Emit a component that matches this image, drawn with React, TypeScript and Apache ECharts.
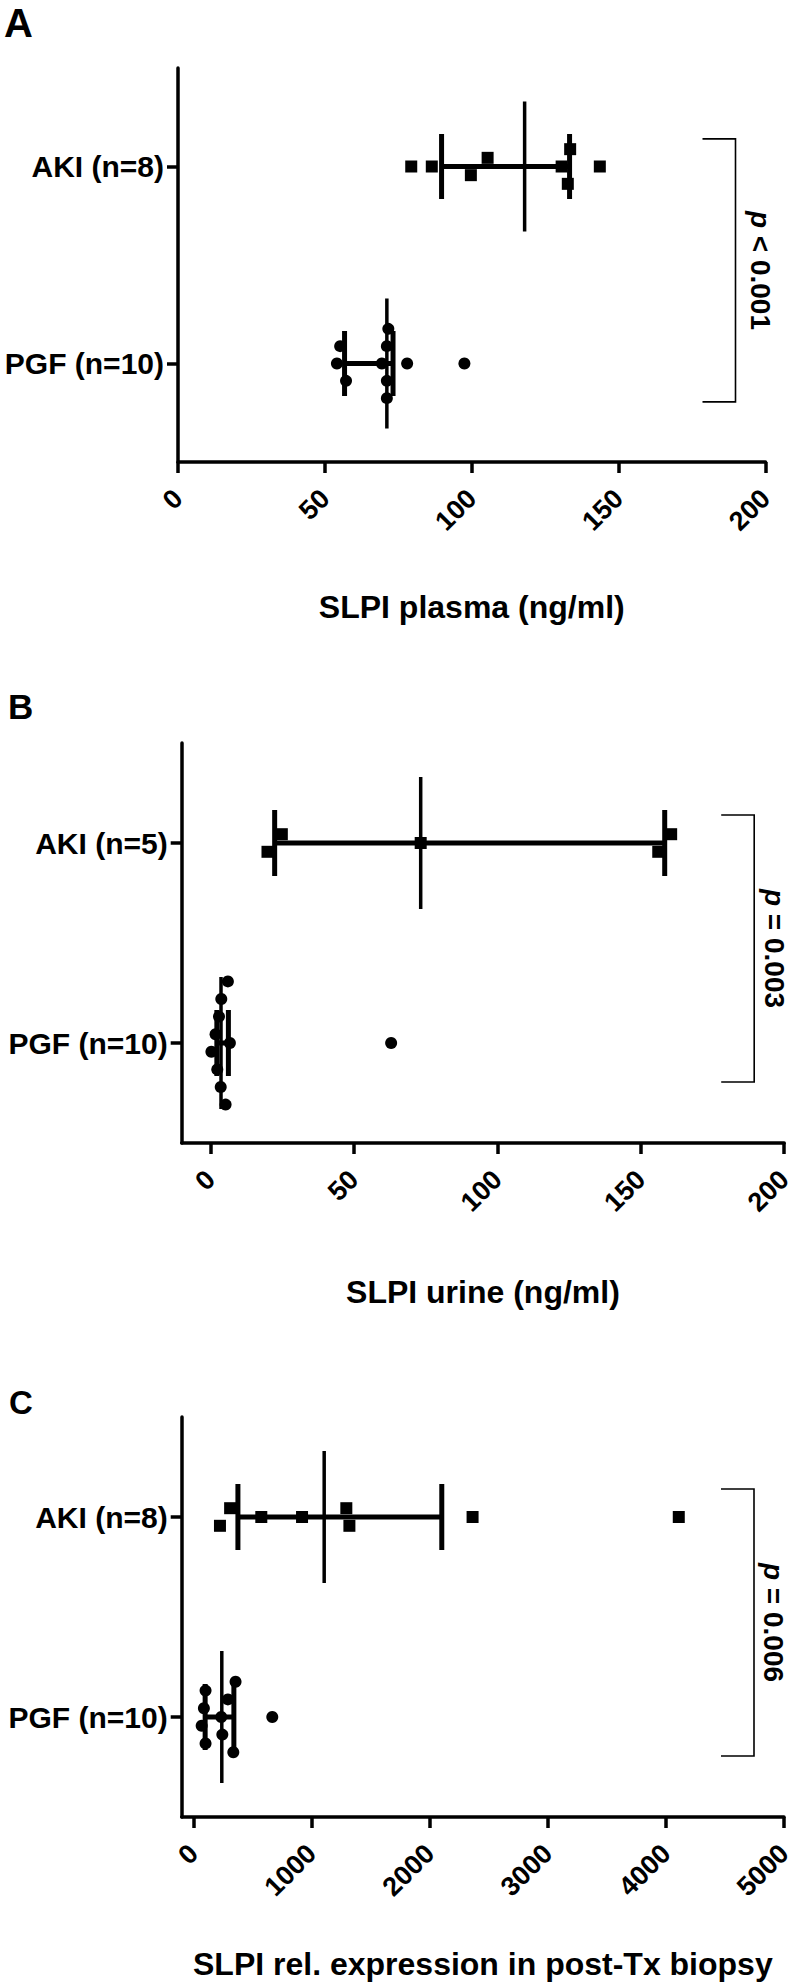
import React, { useEffect, useRef } from "react";
import * as echarts from "echarts";

// ----------------------------- data -----------------------------
const groupNamesPlasma = ["PGF (n=10)", "AKI (n=8)"];
const groupNamesUrine = ["PGF (n=10)", "AKI (n=5)"];
const groupNamesBiopsy = ["PGF (n=10)", "AKI (n=8)"];

const plasmaTicks = [0, 50, 100, 150, 200];
const urineTicks = [0, 50, 100, 150, 200];
const biopsyTicks = [0, 1000, 2000, 3000, 4000, 5000];

// Panel A: SLPI plasma (ng/ml)  (row: jitter row, positive = below the group line)
const akiPlasma = [79.4, 86.4, 99.7, 105.4, 130.6, 133.5, 132.7, 143.6];
const akiPlasmaRow = [0, 0, 1, -1, 0, -2, 2, 0];
const pgfPlasma = [55.2, 54.1, 57.2, 71.6, 71.1, 69.4, 71.1, 71.1, 78.0, 97.5];
const pgfPlasmaRow = [-2, 0, 2, -4, -2, 0, 2, 4, 0, 0];

// Panel B: SLPI urine (ng/ml)
const akiUrine = [19.9, 24.9, 73.3, 156.1, 160.6];
const akiUrineRow = [1, -1, 0, 1, -1];
const pgfUrine = [6.1, 3.8, 3.0, 1.8, 6.8, 0.35, 2.4, 3.6, 5.3, 63.0];
const pgfUrineRow = [-7, -5, -3, -1, 0, 1, 3, 5, 7, 0];

// Panel C: SLPI rel. expression in post-Tx biopsy
const akiBiopsy = [224, 310, 574, 919, 1294, 1320, 2363, 4109];
const akiBiopsyRow = [1, -1, 0, 0, -1, 1, 0, 0];
const pgfBiopsy = [102, 88, 69, 102, 235, 244, 291, 356, 337, 667];
const pgfBiopsyRow = [-3, -1, 1, 3, 0, 2, -2, -4, 4, 0];

const pTexts = ["< 0.001", "= 0.003", "= 0.006"];
const axisTitles = [
  "SLPI plasma (ng/ml)",
  "SLPI urine (ng/ml)",
  "SLPI rel. expression in post-Tx biopsy",
];
const panelLetters = ["A", "B", "C"];

// ----------------------------- layout -----------------------------
const FONT = '"Liberation Sans", Arial, Helvetica, sans-serif';
const JITTER = 0.044; // y-units per jitter row
const MEDIAN_HALF = 0.33;
const CAP_HALF = 0.165;
const BRACKET_TOP = 1.14;
const BRACKET_BOTTOM = -0.195;

const panels = [
  {
    letterSize: 40, letterLeft: 4, letterTop: 3,
    grid: { left: 178, top: 68, width: 587.5, height: 394 },
    xMin: 0, xMax: 200, ticks: plasmaTicks, nameGap: 129, textDx: 5,
    names: groupNamesPlasma,
    aki: akiPlasma, akiRow: akiPlasmaRow, pgf: pgfPlasma, pgfRow: pgfPlasmaRow,
  },
  {
    letterSize: 35, letterLeft: 8, letterTop: 689,
    grid: { left: 181.7, top: 743, width: 602.5, height: 400 },
    xMin: -10, xMax: 200, ticks: urineTicks, nameGap: 133, textDx: 10,
    names: groupNamesUrine,
    aki: akiUrine, akiRow: akiUrineRow, pgf: pgfUrine, pgfRow: pgfUrineRow,
  },
  {
    letterSize: 33, letterLeft: 9, letterTop: 1386,
    grid: { left: 181.7, top: 1417, width: 602.3, height: 400 },
    xMin: -100, xMax: 5000, ticks: biopsyTicks, nameGap: 131, textDx: 11,
    names: groupNamesBiopsy,
    aki: akiBiopsy, akiRow: akiBiopsyRow, pgf: pgfBiopsy, pgfRow: pgfBiopsyRow,
  },
];

function quantile(vals: number[], p: number) {
  const s = [...vals].sort((a, b) => a - b);
  const n = s.length;
  const pos = p * (n + 1);
  const lo = Math.floor(pos);
  if (lo < 1) return s[0];
  if (lo >= n) return s[n - 1];
  return s[lo - 1] + (pos - lo) * (s[lo] - s[lo - 1]);
}

function seg(a: number[], b: number[], w: number) {
  return {
    type: "line",
    shape: { x1: a[0], y1: a[1], x2: b[0], y2: b[1] },
    style: { stroke: "#000", lineWidth: w },
  };
}

const summaryRender = (params: any, api: any) => {
  const med = api.value(0);
  const q1 = api.value(1);
  const q3 = api.value(2);
  const row = api.value(3);
  return {
    type: "group",
    children: [
      seg(api.coord([q1, row]), api.coord([q3, row]), 5),
      seg(api.coord([q1, row + CAP_HALF]), api.coord([q1, row - CAP_HALF]), 5),
      seg(api.coord([q3, row + CAP_HALF]), api.coord([q3, row - CAP_HALF]), 5),
      seg(api.coord([med, row + MEDIAN_HALF]), api.coord([med, row - MEDIAN_HALF]), 3.5),
    ],
  };
};

const makeBracket = (pText: string, textDx: number) => (params: any, api: any) => {
  const cs = params.coordSys;
  const right = cs.x + cs.width;
  const yTop = api.coord([0, api.value(1)])[1];
  const yBot = api.coord([0, api.value(2)])[1];
  const xIn = right - 63;
  const xOut = right - 30;
  return {
    type: "group",
    children: [
      {
        type: "polyline",
        shape: { points: [[xIn, yTop], [xOut, yTop], [xOut, yBot], [xIn, yBot]] },
        style: { stroke: "#000", lineWidth: 1.6, fill: null },
      },
      {
        type: "text",
        x: right - textDx,
        y: (yTop + yBot) / 2,
        rotation: -Math.PI / 2,
        style: {
          text: "{i|p} " + pText,
          rich: {
            i: { fontStyle: "italic", fontWeight: "bold", fontSize: 28, fontFamily: FONT, fill: "#000" },
          },
          fontSize: 28,
          fontWeight: "bold",
          fontFamily: FONT,
          fill: "#000",
          align: "center",
          verticalAlign: "middle",
        },
      },
    ],
  };
};

export default function App() {
  const ref = useRef<HTMLDivElement>(null);

  useEffect(() => {
    if (!ref.current) return;
    const chart = echarts.init(ref.current, undefined, { renderer: "svg" });

    const grids: any[] = [];
    const xAxes: any[] = [];
    const yAxes: any[] = [];
    const series: any[] = [];
    const graphics: any[] = [];

    panels.forEach((p, i) => {
      grids.push({ ...p.grid, containLabel: false });
      xAxes.push({
        type: "value",
        gridIndex: i,
        min: p.xMin,
        max: p.xMax,
        axisLine: { show: true, onZero: false, lineStyle: { color: "#000", width: 3.5 } },
        axisTick: { show: true, length: 11, customValues: p.ticks, lineStyle: { color: "#000", width: 3.5 } },
        axisLabel: {
          customValues: p.ticks,
          rotate: 45,
          margin: 32,
          fontSize: 27,
          fontWeight: "bold",
          fontFamily: FONT,
          color: "#000",
          formatter: (v: number) => String(v),
        },
        splitLine: { show: false },
        name: axisTitles[i],
        nameLocation: "middle",
        nameGap: p.nameGap,
        nameTextStyle: { fontSize: 32, fontWeight: "bold", fontFamily: FONT, color: "#000" },
      });
      yAxes.push({
        type: "value",
        gridIndex: i,
        min: -0.5,
        max: 1.5,
        axisLine: { show: true, onZero: false, lineStyle: { color: "#000", width: 3.5 } },
        axisTick: { show: true, length: 11, customValues: [0, 1], lineStyle: { color: "#000", width: 3.5 } },
        axisLabel: {
          customValues: [0, 1],
          margin: 14,
          fontSize: 30,
          fontWeight: "bold",
          fontFamily: FONT,
          color: "#000",
          formatter: (v: number) => p.names[Math.round(v)],
        },
        splitLine: { show: false },
      });

      series.push({
        type: "scatter",
        xAxisIndex: i,
        yAxisIndex: i,
        symbol: "rect",
        symbolSize: 12,
        itemStyle: { color: "#000", opacity: 1 },
        silent: true,
        z: 3,
        data: p.aki.map((v, k) => [v, 1 - p.akiRow[k] * JITTER]),
      });
      series.push({
        type: "scatter",
        xAxisIndex: i,
        yAxisIndex: i,
        symbol: "circle",
        symbolSize: 12,
        itemStyle: { color: "#000", opacity: 1 },
        silent: true,
        z: 3,
        data: p.pgf.map((v, k) => [v, 0 - p.pgfRow[k] * JITTER]),
      });
      series.push({
        type: "custom",
        xAxisIndex: i,
        yAxisIndex: i,
        clip: false,
        silent: true,
        z: 4,
        encode: { x: [0, 1, 2], y: 3 },
        data: [
          [quantile(p.aki, 0.5), quantile(p.aki, 0.25), quantile(p.aki, 0.75), 1],
          [quantile(p.pgf, 0.5), quantile(p.pgf, 0.25), quantile(p.pgf, 0.75), 0],
        ],
        renderItem: summaryRender,
      });
      series.push({
        type: "custom",
        xAxisIndex: i,
        yAxisIndex: i,
        clip: false,
        silent: true,
        z: 4,
        encode: { x: 0, y: [1, 2] },
        data: [[p.xMin, BRACKET_TOP, BRACKET_BOTTOM]],
        renderItem: makeBracket(pTexts[i], p.textDx),
      });

      graphics.push({
        type: "text",
        left: p.letterLeft,
        top: p.letterTop,
        style: {
          text: panelLetters[i],
          fontSize: p.letterSize,
          fontWeight: "bold",
          fontFamily: FONT,
          fill: "#000",
        },
      });
    });

    chart.setOption({
      animation: false,
      backgroundColor: "#fff",
      grid: grids,
      xAxis: xAxes,
      yAxis: yAxes,
      series,
      graphic: graphics,
    });

    return () => chart.dispose();
  }, []);

  return (
    <div
      ref={ref}
      style={{ position: "absolute", left: 0, top: 0, width: 796, height: 1987, background: "#fff" }}
    />
  );
}
